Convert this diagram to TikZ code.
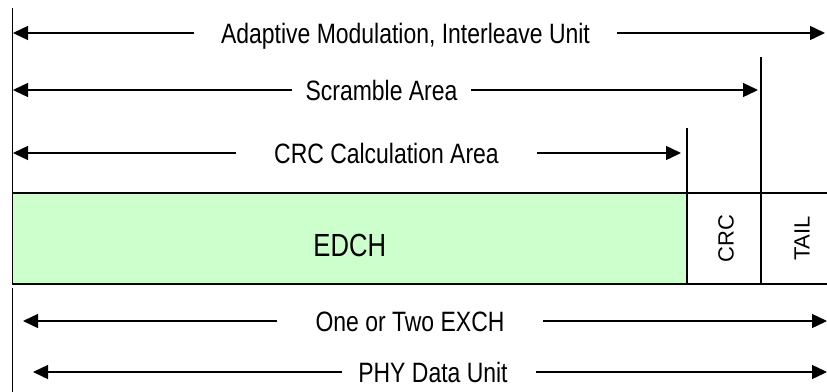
\documentclass[tikz,border=0pt]{standalone}
\usepackage{fontspec}
\setmainfont{Liberation Sans}
\newfontfamily\narrowfont{Liberation Sans}[FakeStretch=0.82]
\newfontfamily\edchfont{Liberation Sans}[FakeStretch=0.80]
\usetikzlibrary{arrows.meta,positioning}
\definecolor{edchgreen}{RGB}{204,255,204}
\tikzset{
  arr/.style={line width=1.4pt,-{Triangle[length=15pt,width=14pt]}},
  lbl/.style={inner sep=0pt,text height=20pt,text depth=0pt,font=\narrowfont\fontsize{28}{32}\selectfont},
  field/.style={draw,line width=1.4pt,minimum height=91pt,inner sep=0pt,outer sep=0pt},
}
\begin{document}
\begin{tikzpicture}[x=1pt,y=-1pt,line width=1.4pt]
  \useasboundingbox (0,0) rectangle (827,391);
  % frame fields
  \node[field,fill=edchgreen,minimum width=674.5pt,text height=35pt,text depth=0pt,
        font=\edchfont\fontsize{32}{36}\selectfont] (edch) at (349.75,238.5) {EDCH};
  \node[field,minimum width=74pt,right=0pt of edch,font=\fontsize{22}{26}\selectfont] (crc) {\hspace{4pt}\rotatebox{90}{CRC}};
  \node[field,draw=none,minimum width=66pt,right=0pt of crc,font=\fontsize{22}{26}\selectfont] (tail) {\hspace{16pt}\rotatebox{90}{TAIL}};
  \draw (tail.north west) -- (tail.north east);
  \draw (tail.south west) -- (tail.south east);
  % area borders
  \draw (edch.north west) -- ++(0,-185);
  \draw (crc.north west) -- ++(0,-65);
  \draw (crc.north east) -- ++(0,-136);
  \draw ([yshift=-4pt]edch.south west) -- ++(0,107);
  % arrow ends
  \coordinate (aml) at (13,33);   \coordinate (amr) at (825,33);
  \coordinate (scl) at (13,90);   \coordinate (scr) at (758,90);
  \coordinate (crl) at (13,153);  \coordinate (crr) at (681,153);
  \coordinate (exl) at (23,321);  \coordinate (exr) at (827,321);
  \coordinate (phl) at (33,372);  \coordinate (phr) at (827,372);
  % labels
  \node[lbl,minimum width=421pt] (am) at (405.5,33) {Adaptive Modulation, Interleave Unit};
  \node[lbl,minimum width=177pt] (sc) at (381.5,90) {Scramble Area};
  \node[lbl,minimum width=299pt] (cr) at (386.5,153) {CRC Calculation Area};
  \node[lbl,minimum width=264pt] (ex) at (410,321) {One or Two EXCH};
  \node[lbl,minimum width=192pt] (ph) at (439,372) {\hspace*{-12pt}PHY Data Unit};
  \draw[arr] (am.west) -- (aml);  \draw[arr] (am.east) -- (amr);
  \draw[arr] (sc.west) -- (scl);  \draw[arr] (sc.east) -- (scr);
  \draw[arr] (cr.west) -- (crl);  \draw[arr] (cr.east) -- (crr);
  \draw[arr] (ex.west) -- (exl);  \draw[arr] (ex.east) -- (exr);
  \draw[arr] (ph.west) -- (phl);  \draw[arr] (ph.east) -- (phr);
\end{tikzpicture}
\end{document}
